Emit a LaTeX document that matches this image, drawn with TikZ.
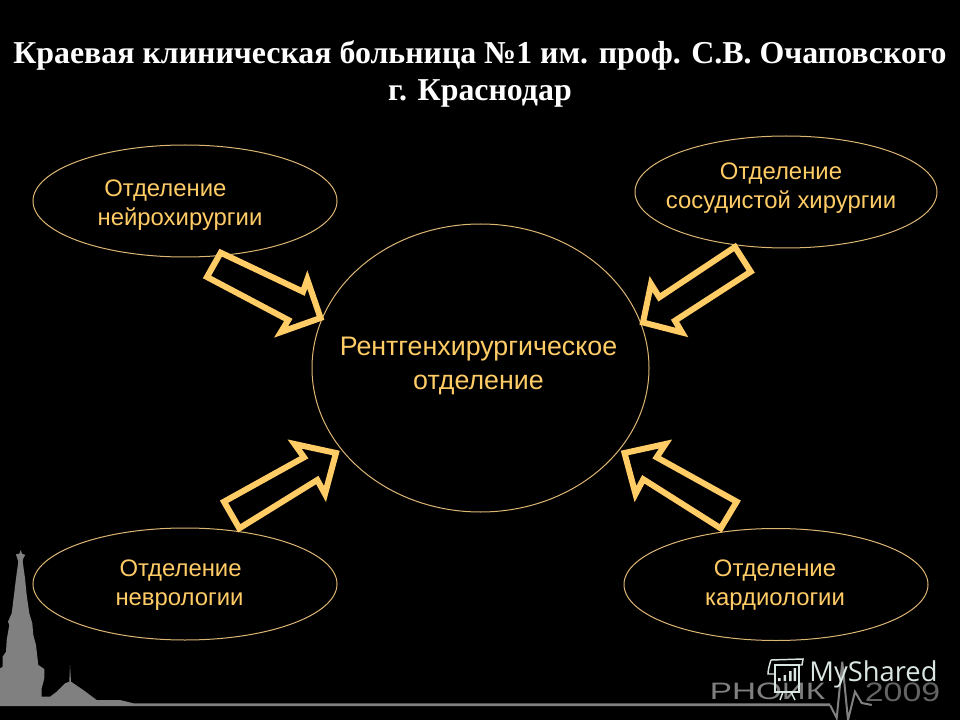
\documentclass[tikz,border=0pt]{standalone}
\usepackage{fontspec}
\setmainfont{Liberation Sans}
\newfontfamily\titlefont{Liberation Serif}
\newfontfamily\markfont{Open Sans}
\usetikzlibrary{shapes.geometric}
\definecolor{lineorange}{RGB}{222,182,116}
\definecolor{arroworange}{RGB}{255,204,102}
\definecolor{logogray}{RGB}{128,128,128}
\definecolor{yeargray}{RGB}{100,100,100}
\definecolor{markwhite}{RGB}{218,230,226}
\tikzset{every picture/.style={line width=0.75pt},
	dept/.style={draw=lineorange,ellipse,inner sep=0pt,line width=0.75pt},
	deptlabel/.style={text=arroworange,font=\fontsize{17.9}{21.5}\selectfont},
	blockarrow/.style={draw=arroworange,line width=4.5pt,miter limit=10,line join=miter},
	markline/.style={draw=markwhite,line width=1.1pt}}

\begin{document}
\begin{tikzpicture}[x=0.75pt,y=0.75pt,yscale=-1,xscale=1]
	\useasboundingbox (0,0) rectangle (960,720);
	\fill[black] (0,0) rectangle (960,720);

	%Shape: Skyline
	\fill[logogray] (0,706) -- (0,668.3) -- (2.7,666.7) -- (2.7,656.7) -- (6,651.7) -- (6.7,640) -- (9.3,625) -- (8,621.7) -- (11.7,613.3) -- (14,595) -- (16,578.3) -- (18.3,561.7) -- (16.7,556.7) -- (16,554.3) -- (19.3,553.7) -- (20.7,550) -- (22,553.7) -- (25.3,555) -- (23.3,558.3) -- (22.7,561.7) -- (25,578.3) -- (26.7,595) -- (29.3,613.3) -- (32.3,623.3) -- (33.3,635) -- (36,645) -- (38.3,665) -- (44.3,669) -- (44.3,678.3) -- (41.7,688.3) -- (41.7,696.7) -- (50,696.7) -- (56.7,691.7) -- (65,683.3) -- (69.3,681.7) -- (70,665) -- (71,681.7) -- (83.3,690) -- (96.7,700) -- (120,700) -- (133.3,703.3) -- (830,703.3) -- (830,706) -- cycle;
	%Shape: Pulse
	\draw[logogray,line width=1.5pt] (830,705) -- (836.7,718) -- (842.3,661.7) -- (848,720) -- (855,691.7) -- (861.7,703) -- (871.7,705);

	%Shape: Ellipse
	\node[dept,minimum width=304*0.75pt,minimum height=112*0.75pt] (neuro) at (185,201) {};
	\node[dept,minimum width=302*0.75pt,minimum height=112*0.75pt] (vascular) at (786,192) {};
	\node[dept,minimum width=337*0.75pt,minimum height=288*0.75pt] (xray) at (480.5,368) {};
	\node[dept,minimum width=304*0.75pt,minimum height=112*0.75pt] (neurology) at (185,584) {};
	\node[dept,minimum width=304*0.75pt,minimum height=112*0.75pt] (cardio) at (776,584.5) {};

	%Shape: Block Arrow
	\draw[blockarrow] (220.7,252.7) -- (303,291.7) -- (307.3,279.5) -- (320.5,318) -- (281,332) -- (288.3,320) -- (207,277) -- cycle;
	\draw[blockarrow] (735,247) -- (659.3,297.3) -- (651,284) -- (643,322.5) -- (682,332.5) -- (675,320.7) -- (750.7,271.7) -- cycle;
	\draw[blockarrow] (224,501.7) -- (304,457.3) -- (294.5,444) -- (336,453) -- (325,494) -- (317.3,480) -- (239.3,528.3) -- cycle;
	\draw[blockarrow] (736.7,501.7) -- (656.7,457.3) -- (665.5,444) -- (624.5,453) -- (635.5,494) -- (643.3,479.3) -- (720.7,528.3) -- cycle;

	% Text Node
	\node[text=white,font=\titlefont\bfseries\fontsize{23.9}{28}\selectfont,align=center] (title) at (480,74) {Краевая клиническая больница №1 им. проф. С.В. Очаповского\\г. Краснодар};
	% Text Node
	\node[deptlabel,align=left] (neurotext) at (180,205) {\hspace*{5pt}Отделение\\нейрохирургии};
	\node[deptlabel,align=center] (vasculartext) at (781,188) {Отделение\\сосудистой хирургии};
	\node[deptlabel,align=center,font=\fontsize{20.1}{25.5}\selectfont] (xraytext) at (478.5,366) {Рентгенхирургическое\\отделение};
	\node[deptlabel,align=left] (neurologytext) at (179.5,585) {\hspace*{3pt}Отделение\\неврологии};
	\node[deptlabel,align=center] (cardiotext) at (775,585) {Отделение\\кардиологии};

	% Text Node
	\node[text=logogray,font=\fontsize{17.8}{18}\selectfont,xscale=1.4,inner sep=0pt] (phoik) at (767.5,691.5) {РНОИК};
	\node[text=yeargray,font=\fontsize{20}{20}\selectfont,xscale=1.27,inner sep=0pt] (year) at (902.5,692.5) {2009};

	%Shape: Projector
	\draw[markline] (775,665) rectangle (799,692);
	\draw[markline] (771,660) -- (803,659) -- (802,665) -- (775,665);
	\draw[markline] (771,660) .. controls (769,666) and (768,671) .. (768,674) -- (775,674);
	\fill[markwhite] (778,678) rectangle (780.5,681) (783.5,675) rectangle (786,681) (789,671) rectangle (791.5,681) (793.5,668) rectangle (796,681);
	\draw[markline] (783,692) -- (780,700) (791,692) -- (795,700);
	% Text Node
	\node[text=markwhite,font=\markfont\fontsize{20.5}{21}\selectfont,inner sep=0pt] (myshared) at (873.5,674) {MyShared};
\end{tikzpicture}
\end{document}
